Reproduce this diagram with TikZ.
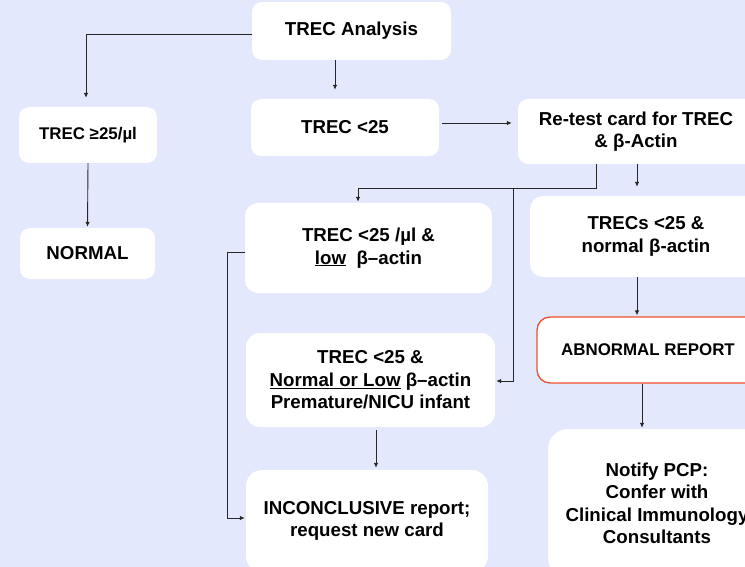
\documentclass[tikz,border=0pt]{standalone}
\usepackage{fontspec}
\setmainfont{Liberation Sans}
\usetikzlibrary{arrows.meta}
\definecolor{bgblue}{RGB}{227,232,252}
\definecolor{alarmred}{RGB}{240,80,44}
\tikzset{
  box/.style={fill=white, rounded corners=10pt, align=center, inner sep=0pt,
    font=\fontsize{18.7}{22.5}\selectfont\bfseries},
  smallbox/.style={box, font=\fontsize{16.9}{20}\selectfont\bfseries},
  plain/.style={draw=black!85, line width=0.9pt},
  link/.style={plain, -{Latex[length=5pt,width=4.5pt]}},
}
\begin{document}
\begin{tikzpicture}[x=1pt,y=-1pt]
  \useasboundingbox (0,0) rectangle (745,567);
  \clip (0,0) rectangle (745,567);
  \fill[bgblue] (0,0) rectangle (745,567);
  \path
    (351.5,31) node[box, minimum width=199pt, minimum height=58pt] (ana) {TREC Analysis}
    (88,135) node[smallbox, minimum width=138pt, minimum height=56pt] (ge25) {TREC ≥25/µl}
    (87.5,253.5) node[box, minimum width=135pt, minimum height=51pt] (norm) {NORMAL}
    (345,127.5) node[box, minimum width=188pt, minimum height=57pt] (lt25) {TREC <25}
    (636,131.5) node[box, minimum width=236pt, minimum height=65pt] (retest) {Re-test card for TREC\\ \& β-Actin}
    (646,236.5) node[box, minimum width=232pt, minimum height=81pt, rounded corners=13pt] (trecs) {TRECs <25 \&\\ normal β-actin}
    (368.5,248) node[box, minimum width=247pt, minimum height=90pt, rounded corners=13pt] (low) {TREC <25 /µl \&\\ \underline{low}\ \ β–actin}
    (370.5,380) node[box, minimum width=249pt, minimum height=94pt, rounded corners=14pt] (nl) {TREC <25 \&\\ \underline{Normal or Low} β–actin\\ Premature/NICU infant}
    (648,350) node[smallbox, draw=alarmred, line width=1.3pt, minimum width=222pt, minimum height=66pt, rounded corners=13pt] (abn) {ABNORMAL REPORT}
    (367,521) node[box, minimum width=242pt, minimum height=102pt, rounded corners=16pt] (inc) {INCONCLUSIVE report;\\ request new card}
    (657,503.5) node[box, minimum width=218pt, minimum height=149pt, rounded corners=20pt] (notify) {Notify PCP:\\ Confer with\\ Clinical Immunology\\ Consultants};
  \coordinate (fork) at (513,188);
  \begin{scope}[shorten >=1pt]
    \draw[link, shorten >=9pt] ([yshift=-3pt]ana.west) -| ([xshift=-2pt]ge25.north);
    \draw[link, shorten >=9pt] ([xshift=-16.5pt]ana.south) -- ([xshift=-10pt]lt25.north);
    \draw[link] (ge25.south) -- (norm.north);
    \draw[link, shorten <=3pt, shorten >=6pt] ([yshift=4.5pt]lt25.east) -- ([yshift=8.5pt]retest.west);
    \draw[plain] ([xshift=-40pt]retest.south) |- (fork);
    \draw[link] (fork) -| ([xshift=-10.5pt]low.north);
    \draw[link] (fork) |- ([yshift=-1pt]nl.east);
    \draw[link, shorten >=9pt] ([xshift=1pt]retest.south) -- ([xshift=-9pt]trecs.north);
    \draw[link] ([xshift=-9pt]trecs.south) -- ([xshift=-11pt]abn.north);
    \draw[link] ([xshift=-6pt]abn.south) -- ([xshift=-15pt]notify.north);
    \draw[link] ([yshift=-4pt]low.west) -- ++(-17,0) |- ([yshift=3pt]inc.west);
    \draw[link, shorten <=3pt, shorten >=2pt] ([xshift=5.5pt]nl.south) -- ([xshift=9pt]inc.north);
  \end{scope}
\end{tikzpicture}
\end{document}
